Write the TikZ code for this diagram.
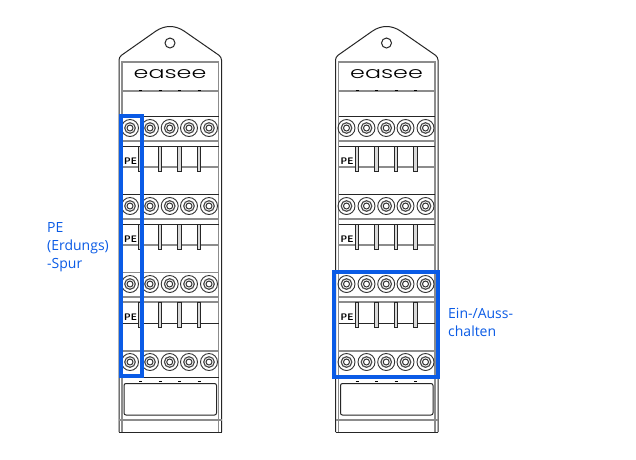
\documentclass[tikz,border=0pt]{standalone}
\usepackage{fontspec}
\setmainfont{Open Sans}
\newfontfamily\logofont{Poppins Light}
\definecolor{easeeblue}{HTML}{0A5BE6}
\begin{document}
\begin{tikzpicture}[x=1pt,y=-1pt,
  outline/.style={draw=black!85,line width=1pt},
  softline/.style={draw=black!45,line width=1.2pt},
  marker/.style={draw=easeeblue,line width=4pt},
  callout/.style={text=easeeblue,font=\fontsize{14}{18}\selectfont,align=left,anchor=north west,inner sep=0pt}]
\useasboundingbox (0,0) rectangle (636,459);
\fill[white] (0,0) rectangle (636,459);
\foreach \dx in {0,216.5} {
\begin{scope}[shift={(\dx,0)}]
\draw[outline,rounded corners=3pt] (119,432) -- (119,57) -- (156,31);
\draw[outline] (156,31) .. controls (165,25) and (175,25) .. (184,31);
\draw[outline,rounded corners=3pt] (184,31) -- (221.5,57) -- (221.5,432);
\draw[outline] (119,432) -- (221.5,432);
\draw[outline] (170,43) circle (5);
\draw[softline] (122,432) -- (122,62) -- (218.5,62) -- (218.5,432);
\draw[softline] (119,420) -- (221.5,420);
\node[font=\logofont\fontsize{17}{17}\selectfont,xscale=1.4,yscale=.95] (logo\dx) at (170,74.5) {easee};
\draw[softline] (122,91) -- (218.5,91);
\foreach \tx in {140.5,160,179.5,199} {
\draw[black,line width=1pt] (\tx-1.5,90) -- (\tx+1.5,90);
\draw[black,line width=1pt] (\tx-1.5,381.5) -- (\tx+1.5,381.5);
}
% three banks with the switch slots
\foreach \by/\lt/\lb in {128/outline/softline,206/outline/softline,284/softline/outline} {
\draw[\lt] (122,\by-11.5) -- (218.5,\by-11.5);
\draw[softline] (122,\by+13) -- (218.5,\by+13);
\draw[\lt] (122,\by+18) -- (218.5,\by+18);
\draw[\lb] (122,\by+39) -- (218.5,\by+39);
\foreach \tx in {140.5,160,179.5,199} {
\filldraw[fill=black!15,draw=black!85,line width=1pt] (\tx-1.7,\by+18) rectangle (\tx+1.7,\by+43);
}
\node[font=\sffamily\bfseries\fontsize{9.5}{9.5}\selectfont,text=black,inner sep=0pt] (pe\dx\by) at (130.5,\by+33) {PE};
}
\draw[softline] (122,351) -- (218.5,351);
\draw[outline] (122,377) -- (218.5,377);
\foreach \by in {128,206,284,362} {
\foreach \tx in {130,150,169.7,189,209} {
\draw[black!80,line width=.9pt] (\tx,\by) circle (8.5);
\draw[black!70,line width=1.2pt] (\tx,\by) circle (5.3);
\draw[black!80,line width=1pt] (\tx,\by) circle (3);
}
}
\draw[outline,rounded corners=2pt] (124,383.5) rectangle (216.5,415);
\end{scope}
}
\draw[marker] (120.5,115.5) rectangle (141.5,375.5);
\draw[marker] (334,272) rectangle (438,376.5);
\node[callout] (pespur) at (47,222.5) {PE\\(Erdungs)\\-Spur};
\node[callout] (einaus) at (448,308.5) {Ein-/Auss-\\chalten};
\end{tikzpicture}
\end{document}
